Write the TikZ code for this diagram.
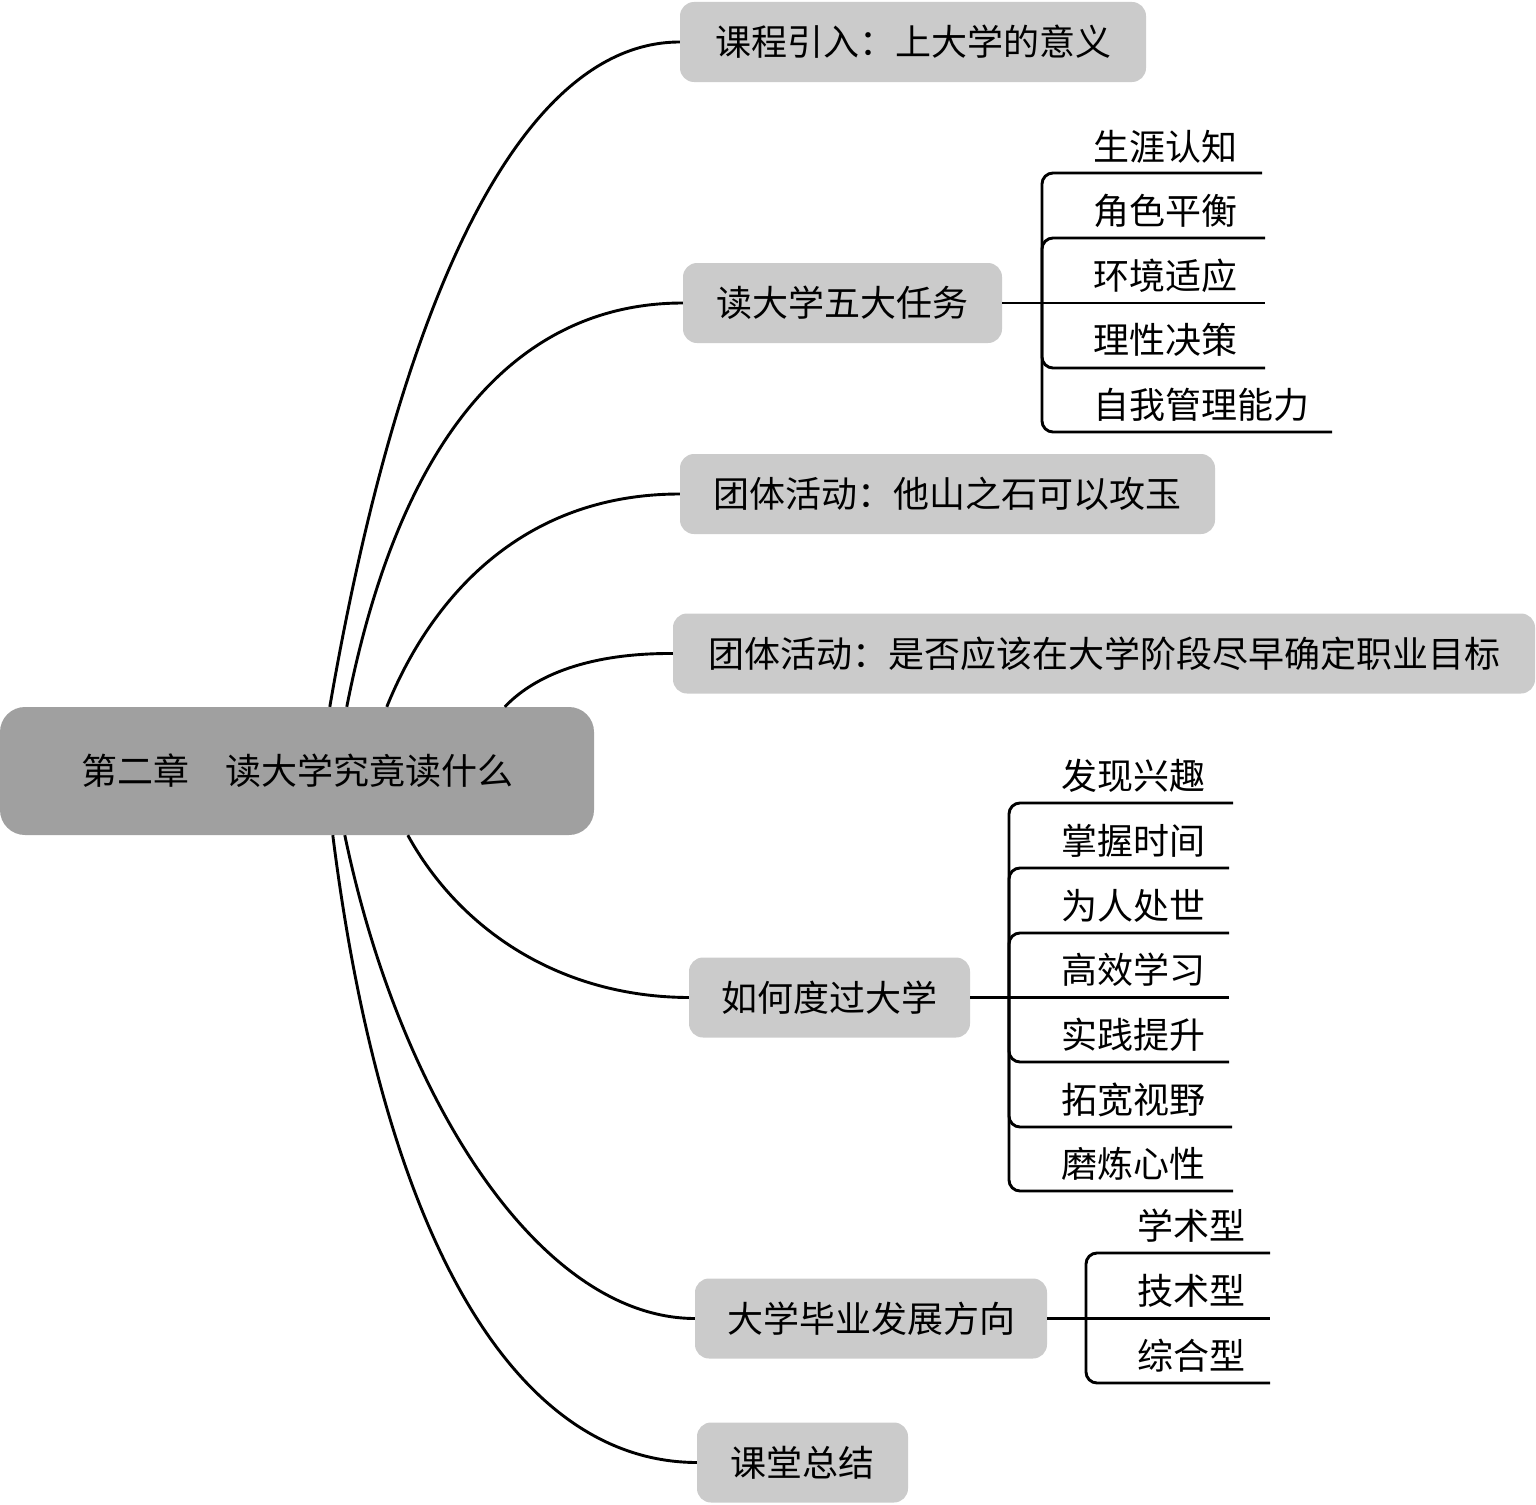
\documentclass[tikz,border=0pt]{standalone}
\usepackage{fontspec}
\setmainfont{Noto Sans CJK SC}
\usetikzlibrary{calc}
\definecolor{centralgray}{HTML}{A0A0A0}
\definecolor{topicgray}{HTML}{CBCBCB}
\begin{document}
\begin{tikzpicture}[x=1pt,y=-1pt,
  every node/.style={font=\fontsize{36}{40}\selectfont, text=black},
  topic/.style={rectangle, rounded corners=14pt, fill=topicgray, minimum height=80pt, inner sep=0pt},
  central/.style={rectangle, rounded corners=25pt, fill=centralgray, minimum width=594pt, minimum height=128pt, inner sep=0pt},
  leaf/.style={anchor=west, inner sep=0pt},
  link/.style={line width=2.9pt, black},
  bracket/.style={line width=2.9pt, black, rounded corners=11pt},
]
\useasboundingbox (0,0) rectangle (1536,1504);

% central and topics
\node[central] (c) at (297,771) {第二章　读大学究竟读什么};
\node[topic, minimum width=466pt] (n1) at (913,42) {课程引入：上大学的意义};
\node[topic, minimum width=319pt] (n2) at (842.5,303) {读大学五大任务};
\node[topic, minimum width=535pt] (n3) at (947.5,494) {团体活动：他山之石可以攻玉};
\node[topic, minimum width=862pt] (n4) at (1104,653.5) {团体活动：是否应该在大学阶段尽早确定职业目标};
\node[topic, minimum width=281pt] (n5) at (829.5,997.5) {如何度过大学};
\node[topic, minimum width=352pt] (n6) at (871,1318.5) {大学毕业发展方向};
\node[topic, minimum width=211pt] (n7) at (802.5,1462.5) {课堂总结};

% main connectors
\draw[link] ([xshift=330pt]c.north west) .. controls (400,300) and (520,42) .. (n1.west);
\draw[link] ([xshift=347pt]c.north west) .. controls (405,410) and (535,303) .. (n2.west);
\draw[link] ([xshift=387pt]c.north west) .. controls (430,600) and (520,494) .. (n3.west);
\draw[link] ([xshift=505pt]c.north west) .. controls (540,670) and (600,653) .. (n4.west);
\draw[link] ([xshift=408pt]c.south west) .. controls (460,930) and (560,997) .. (n5.west);
\draw[link] ([xshift=345pt]c.south west) .. controls (400,1100) and (540,1318) .. (n6.west);
\draw[link] ([xshift=333pt]c.south west) .. controls (385,1250) and (520,1462) .. (n7.west);

% sub-branches of n2
\node[leaf] (t21) at (1093,147) {生涯认知};
\node[leaf] (t22) at (1093,211) {角色平衡};
\node[leaf] (t23) at (1093,276) {环境适应};
\node[leaf] (t24) at (1093,340) {理性决策};
\node[leaf] (t25) at (1093,405) {自我管理能力};
\coordinate (j2) at (1042,303);
\coordinate (e21) at (1262,173);
\coordinate (e22) at (1265,238);
\coordinate (e23) at (1265,303);
\coordinate (e24) at (1265,368);
\coordinate (e25) at (1332,432);
\draw[link] (n2.east) -- (e23);
\draw[bracket] (j2) |- (e21);
\draw[bracket] (j2) |- (e22);
\draw[bracket] (j2) |- (e24);
\draw[bracket] (j2) |- (e25);

% sub-branches of n5
\node[leaf] (t51) at (1061,776) {发现兴趣};
\node[leaf] (t52) at (1061,841) {掌握时间};
\node[leaf] (t53) at (1061,906) {为人处世};
\node[leaf] (t54) at (1061,970) {高效学习};
\node[leaf] (t55) at (1061,1035) {实践提升};
\node[leaf] (t56) at (1061,1100) {拓宽视野};
\node[leaf] (t57) at (1061,1164) {磨炼心性};
\coordinate (j5) at (1009,997.5);
\coordinate (e51) at (1233,803);
\coordinate (e52) at (1229,868);
\coordinate (e53) at (1229,933);
\coordinate (e54) at (1229,997.5);
\coordinate (e55) at (1229,1062);
\coordinate (e56) at (1232,1127);
\coordinate (e57) at (1233,1191);
\draw[link] (n5.east) -- (e54);
\draw[bracket] (j5) |- (e51);
\draw[bracket] (j5) |- (e52);
\draw[bracket] (j5) |- (e53);
\draw[bracket] (j5) |- (e55);
\draw[bracket] (j5) |- (e56);
\draw[bracket] (j5) |- (e57);

% sub-branches of n6
\node[leaf] (t61) at (1137,1226) {学术型};
\node[leaf] (t62) at (1137,1291) {技术型};
\node[leaf] (t63) at (1137,1356) {综合型};
\coordinate (j6) at (1086,1318.5);
\coordinate (e61) at (1270,1253);
\coordinate (e62) at (1270,1318.5);
\coordinate (e63) at (1270,1383);
\draw[link] (n6.east) -- (e62);
\draw[bracket] (j6) |- (e61);
\draw[bracket] (j6) |- (e63);
\end{tikzpicture}
\end{document}
